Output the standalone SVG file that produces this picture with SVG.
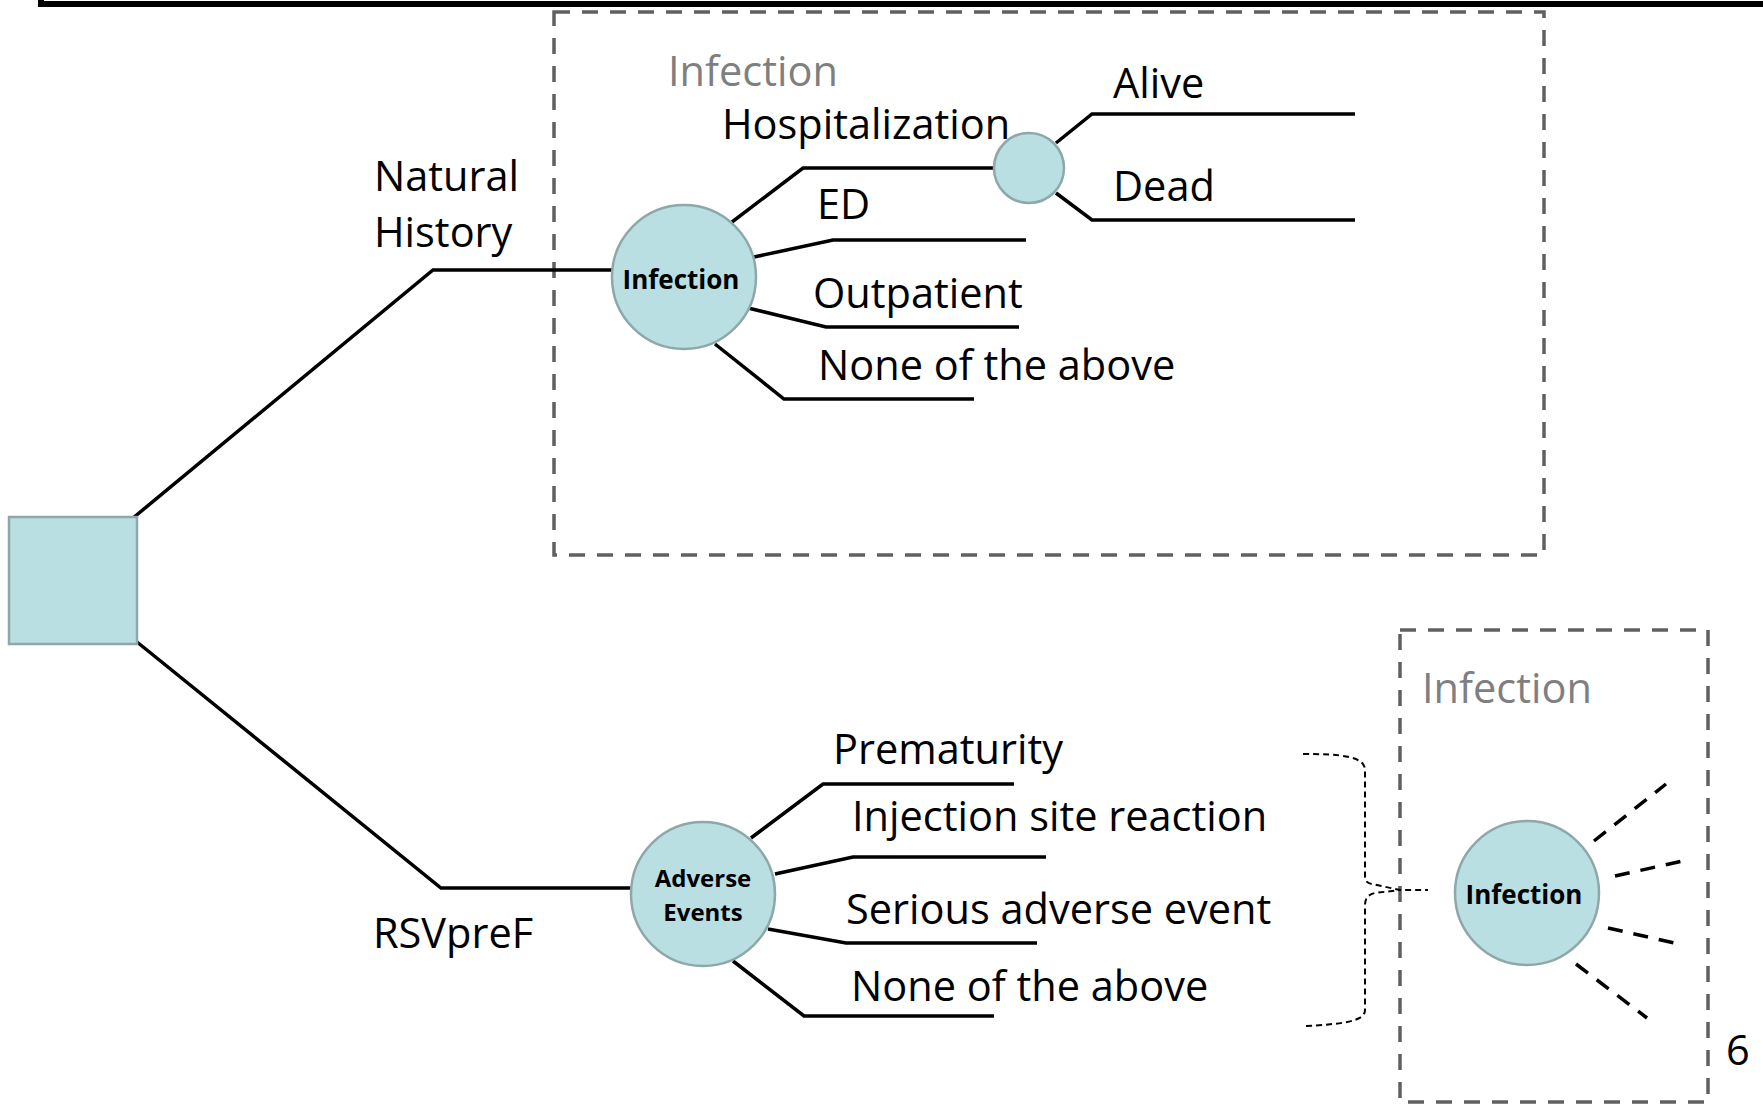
<svg xmlns="http://www.w3.org/2000/svg" width="1763" height="1105" viewBox="0 0 1763 1105">
<style>
.lbl{font-family:"Open Sans","Liberation Sans",sans-serif;font-size:41.5px;fill:#000}
.gray{font-family:"Open Sans","Liberation Sans",sans-serif;font-size:41.5px;fill:#7f7f7f}
.bold{font-family:"Open Sans","Liberation Sans",sans-serif;font-weight:bold;fill:#000;text-anchor:middle}
.node{fill:#b9dfe2;stroke:#8ea8aa;stroke-width:2.5}
.ln{fill:none;stroke:#000;stroke-width:3.5}
.dl{fill:none;stroke:#000;stroke-width:3.5;stroke-dasharray:15 11}
.box{fill:none;stroke:#606060;stroke-width:3.5;stroke-dasharray:16 12}
</style>
<rect width="1763" height="1105" fill="#fff"/>
<path d="M41,0 V4 H1763" fill="none" stroke="#000" stroke-width="6"/>
<g id="frames">
<rect id="box-natural" class="box" x="554" y="12" width="990" height="543"/>
<rect id="box-rsv" class="box" x="1400" y="630" width="308" height="472"/>
</g>
<g id="connectors">
<path class="ln" d="M133,518 L433,270 H614"/>
<path class="ln" d="M137,642 L441,888 H632"/>
<path class="ln" d="M732,222 L803,168 H995"/>
<path class="ln" d="M754,257 L833,240 H1026"/>
<path class="ln" d="M748,308 L826,327 H1019"/>
<path class="ln" d="M715,344 L784,399 H974"/>
<path class="ln" d="M1056,143 L1092,114 H1355"/>
<path class="ln" d="M1056,193 L1092,220 H1355"/>
<path class="ln" d="M751,838 L823,784 H1014"/>
<path class="ln" d="M775,874 L853,857 H1046"/>
<path class="ln" d="M768,929 L846,943 H1037"/>
<path class="ln" d="M733,961 L804,1016 H994"/>
<path class="dl" d="M1594,841 L1666,784"/>
<path class="dl" d="M1615,876 L1687,860"/>
<path class="dl" d="M1608,928 L1679,944"/>
<path class="dl" d="M1576,964 L1647,1018"/>
<path d="M1303,754 C1340,754 1365,756 1365,770 V877 Q1365,883 1372,884 L1400,890 L1428,890 M1306,1026 C1340,1024 1365,1022 1365,1010 V905 Q1365,895 1375,893 L1400,890" fill="none" stroke="#000" stroke-width="2" stroke-dasharray="6 4"/>
</g>
<g id="decision">
<rect class="node" x="9" y="517" width="128" height="127"/>
</g>
<g id="infection-node">
<circle class="node" cx="684" cy="277" r="72"/>
<text class="bold" x="681" y="289" font-size="26">Infection</text>
</g>
<g id="hosp-node">
<circle class="node" cx="1029" cy="168" r="35"/>
</g>
<g id="adverse-node">
<circle class="node" cx="703" cy="894" r="72"/>
<text class="bold" x="703" y="887" font-size="24">Adverse</text>
<text class="bold" x="703" y="921" font-size="24">Events</text>
</g>
<g id="infection-node-2">
<circle class="node" cx="1527" cy="893" r="72"/>
<text class="bold" x="1524" y="904" font-size="26">Infection</text>
</g>
<g id="labels">
<text class="gray" x="668" y="86">Infection</text>
<text class="lbl" x="722" y="139">Hospitalization</text>
<text class="lbl" x="374" y="191">Natural</text>
<text class="lbl" x="374" y="247">History</text>
<text class="lbl" x="817" y="219">ED</text>
<text class="lbl" x="813" y="308">Outpatient</text>
<text class="lbl" x="818" y="380">None of the above</text>
<text class="lbl" x="1113" y="98">Alive</text>
<text class="lbl" x="1113" y="201">Dead</text>
<text class="lbl" x="833" y="764">Prematurity</text>
<text class="lbl" x="852" y="831">Injection site reaction</text>
<text class="lbl" x="846" y="924">Serious adverse event</text>
<text class="lbl" x="851" y="1001">None of the above</text>
<text class="lbl" x="373" y="948">RSVpreF</text>
<text class="gray" x="1422" y="703">Infection</text>
<text class="lbl" x="1726" y="1065" font-size="36">6</text>
</g>
</svg>
